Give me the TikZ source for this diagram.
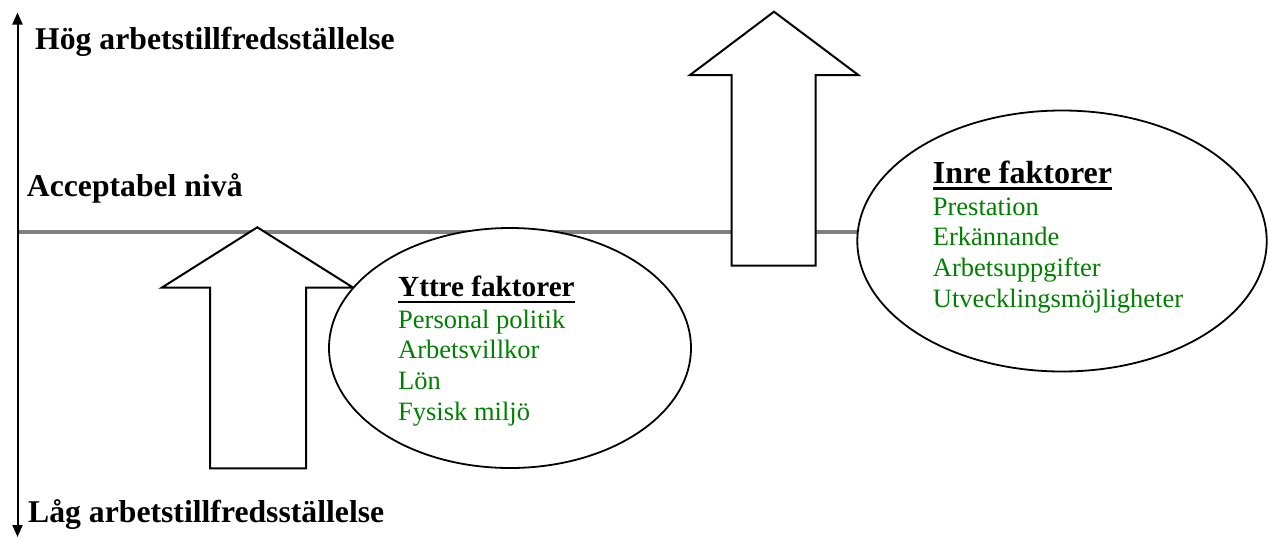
\documentclass[tikz,border=0pt]{standalone}
\usepackage{fontspec}
\setmainfont{Liberation Serif}
\usetikzlibrary{arrows.meta,shapes.geometric}
\definecolor{wgreen}{RGB}{0,128,0}
\definecolor{wgray}{RGB}{128,128,128}
\tikzset{
  axislbl/.style={anchor=base west,inner sep=0pt,font=\fontsize{31.7}{38}\selectfont\bfseries},
  headA/.style={anchor=base west,inner sep=0pt,font=\fontsize{29.2}{35}\selectfont\bfseries},
  headB/.style={anchor=base west,inner sep=0pt,font=\fontsize{32}{38}\selectfont\bfseries},
  item/.style={anchor=base west,inner sep=0pt,text=wgreen,font=\fontsize{26.5}{30.7}\selectfont},
  bigarrow/.style={draw=black,fill=white,line width=2pt,line join=miter},
  factor/.style={ellipse,draw=black,fill=white,line width=1.8pt,inner sep=0pt},
  level/.style={draw=wgray,line width=4.5pt},
  axisline/.style={draw=black,line width=2pt,{Triangle[width=10pt,length=12pt]}-{Triangle[width=10pt,length=12pt]}},
  uline/.style={draw=black,line width=2.7pt}
}
\begin{document}
\begin{tikzpicture}[x=1pt,y=-1pt]
\useasboundingbox (0,0) rectangle (1268,536);
% level line
\coordinate (lvlA) at (17.5,232);
\coordinate (lvlB) at (860,232);
\draw[level] (lvlA) -- (lvlB);
% axis
\coordinate (axtop) at (17.5,12.5);
\coordinate (axbot) at (17.5,537);
\draw[axisline] (axbot) -- (axtop);
% left arrow
\draw[bigarrow] (257.3,227.3) -- (353.3,287.7) -- (306,287.7) -- (306,468.3) -- (210,468.3) -- (210,287.7) -- (161.7,287.7) -- cycle;
% right arrow
\draw[bigarrow] (774,11.7) -- (858.3,75) -- (815.7,75) -- (815.7,265.7) -- (731.7,265.7) -- (731.7,75) -- (690,75) -- cycle;
% ellipses
\node[factor,minimum width=362pt,minimum height=240pt] (yttre) at (510,348) {};
\node[factor,minimum width=409.4pt,minimum height=261pt] (inre) at (1062,241) {};
% axis labels
\node[axislbl] (hog) at (35,49) {Hög arbetstillfredsställelse};
\node[axislbl] (acc) at (26.7,196) {Acceptabel nivå};
\node[axislbl] (lag) at (28,522.7) {Låg arbetstillfredsställelse};
% yttre
\node[headA] (yh) at (398,296.5) {Yttre faktorer};
\draw[uline] ([yshift=-5.5pt]yh.base west) -- ([yshift=-5.5pt]yh.base east);
\node[item] (y1) at (398,328) {Personal politik};
\node[item] (y2) at (398,358.7) {Arbetsvillkor};
\node[item] (y3) at (398,389.4) {Lön};
\node[item] (y4) at (398,420.1) {Fysisk miljö};
% inre
\node[headB] (ih) at (932.7,183.3) {Inre faktorer};
\draw[uline] ([yshift=-5.5pt]ih.base west) -- ([yshift=-5.5pt]ih.base east);
\node[item] (i1) at (932.7,215) {Prestation};
\node[item] (i2) at (932.7,245.7) {Erkännande};
\node[item] (i3) at (932.7,276.4) {Arbetsuppgifter};
\node[item] (i4) at (932.7,307.1) {Utvecklingsmöjligheter};
\end{tikzpicture}
\end{document}
